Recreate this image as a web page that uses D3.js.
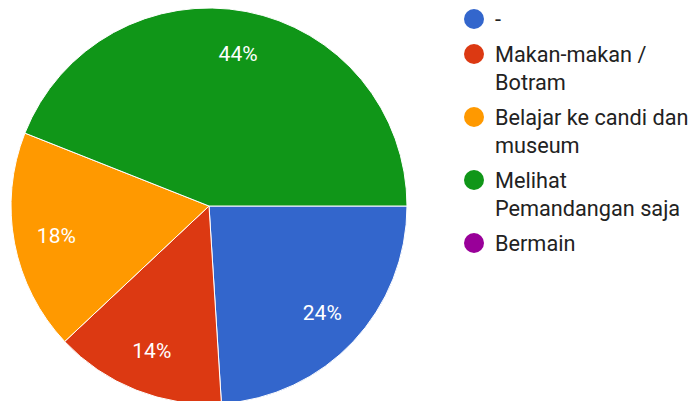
<!DOCTYPE html>
<html>
<head>
<meta charset="utf-8">
<script src="https://cdn.jsdelivr.net/npm/d3@7"></script>
<style>
  html, body { margin: 0; padding: 0; background: #fff; }
  svg { display: block; }
</style>
</head>
<body>
<svg id="chart" width="692" height="401"></svg>
<script>
// Answer categories, their shares (percent) and slice colours
const categories = ["-", "Makan-makan / Botram", "Belajar ke candi dan museum", "Melihat Pemandangan saja", "Bermain"];
const legendLines = [["-"], ["Makan-makan /", "Botram"], ["Belajar ke candi dan", "museum"], ["Melihat", "Pemandangan saja"], ["Bermain"]];
const values = [24, 14, 18, 44, 0];
const colors = ["#3366cc", "#dc3912", "#ff9900", "#109618", "#990099"];

const svg = d3.select("#chart");
const cx = 209, cy = 206, radius = 198;

const data = categories.map((c, i) => ({ name: c, value: values[i], color: colors[i], lines: legendLines[i] }));

const pie = d3.pie()
  .value(d => d.value)
  .sort(null)
  .startAngle(Math.PI / 2)
  .endAngle(Math.PI / 2 + 2 * Math.PI);

const arc = d3.arc().innerRadius(0).outerRadius(radius);
const labelArc = d3.arc().innerRadius(radius * 0.785).outerRadius(radius * 0.785);

const g = svg.append("g").attr("transform", `translate(${cx},${cy})`);
const arcs = pie(data).filter(d => d.data.value > 0);

g.selectAll("path.slice")
  .data(arcs)
  .join("path")
  .attr("class", "slice")
  .attr("d", arc)
  .attr("fill", d => d.data.color)
  .attr("stroke", "#ffffff")
  .attr("stroke-width", 1);

g.selectAll("text.pct")
  .data(arcs)
  .join("text")
  .attr("class", "pct")
  .attr("transform", d => `translate(${labelArc.centroid(d)})`)
  .attr("text-anchor", "middle")
  .attr("dy", "0.36em")
  .attr("font-family", "Roboto, Arial, sans-serif")
  .attr("font-size", 21)
  .attr("fill", "#ffffff")
  .text(d => Math.round(d.data.value / d3.sum(values) * 100) + "%");

// Legend: circle marker with wrapped label lines
const legend = svg.append("g").attr("transform", "translate(474,0)");
const lineH = 28, gap = 7;
let y = 19;
data.forEach(d => {
  const item = legend.append("g").attr("transform", `translate(0,${y})`);
  item.append("circle").attr("r", 10).attr("fill", d.color);
  const t = item.append("text")
    .attr("x", 21)
    .attr("y", 8)
    .attr("font-family", "Roboto, Arial, sans-serif")
    .attr("font-size", 21.7)
    .attr("fill", "#222222");
  d.lines.forEach((ln, k) => {
    t.append("tspan").attr("x", 21).attr("y", 8 + k * lineH).text(ln);
  });
  y += d.lines.length * lineH + gap;
});
</script>
</body>
</html>
